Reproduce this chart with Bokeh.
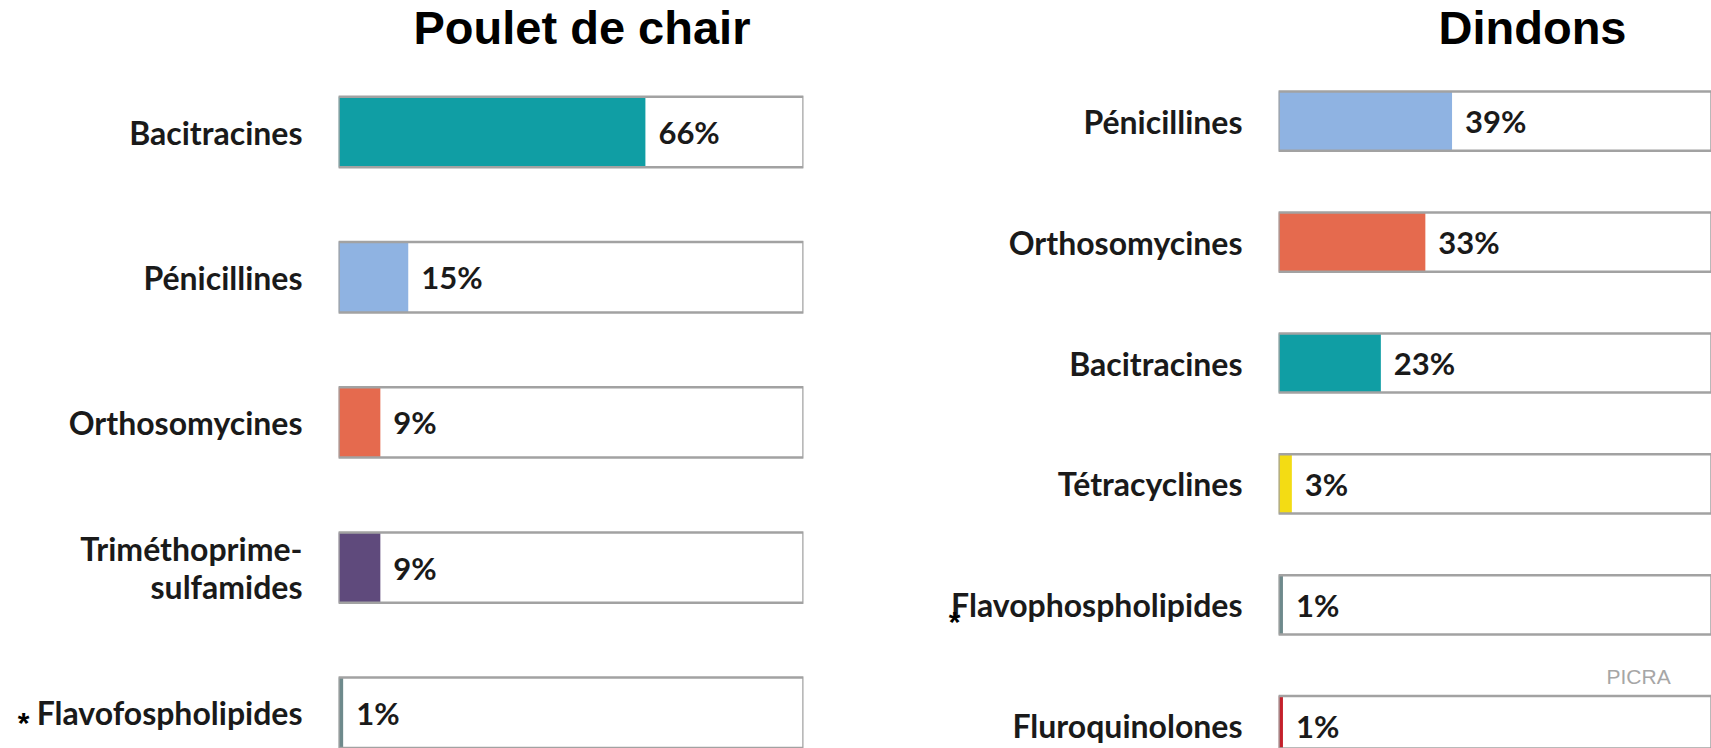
from bokeh.plotting import figure
from bokeh.layouts import row
from bokeh.models import Range1d, FixedTicker, ColumnDataSource, Label, LinearAxis
from bokeh.core.properties import value
from bokeh.embed import file_html
from bokeh.resources import INLINE

# ---------------- data ----------------
chicken_cats = ["Bacitracines", "Pénicillines", "Orthosomycines",
                "Triméthoprime-\nsulfamides", "Flavofospholipides"]
chicken_vals = [66, 15, 9, 9, 1]
chicken_cols = ["#109ea4", "#8fb3e2", "#e56a4e", "#5f4a7c", "#6e8a8c"]
chicken_note_row = 4   # row carrying the "*" note

turkey_cats = ["Pénicillines", "Orthosomycines", "Bacitracines",
               "Tétracyclines", "Flavophospholipides", "Fluroquinolones"]
turkey_vals = [39, 33, 23, 3, 1, 1]
turkey_cols = ["#8fb3e2", "#e56a4e", "#109ea4", "#f3dc14", "#6e8a8c", "#c4202b"]
turkey_note_row = 4

titles = ["Poulet de chair", "Dindons"]
source_note = "PICRA"

LABEL_FONT = "Lato"
FT = 0.0       # frame top (px)
FB = 748.0     # frame bottom (px)


def panel(title, cats, vals, cols, width, mb_left, mb_right,
          y0, step, x_end, bar_h, title_x, note_pos, note_text, note_standoff):
    n = len(cats)
    idx = list(range(n))
    y_start = (FB - y0) / step
    y_end = (FT - y0) / step
    p = figure(width=width, height=int(FB), output_backend="svg",
               toolbar_location=None, x_range=Range1d(0, x_end),
               y_range=Range1d(y_start, y_end),
               min_border_left=mb_left, min_border_right=mb_right,
               min_border_top=0, min_border_bottom=0)
    p.outline_line_color = None
    p.grid.visible = False
    p.xaxis.visible = False

    # panel title
    p.add_layout(Label(x=title_x, y=FB - 27, x_units="screen", y_units="screen",
                       text=title, text_font="Liberation Sans",
                       text_font_style="bold", text_font_size="47px",
                       text_color="#000000", text_align="left",
                       text_baseline="alphabetic"))

    def style_axis(ax):
        ax.axis_line_color = None
        ax.major_tick_line_color = None
        ax.minor_tick_line_color = None
        ax.major_tick_out = 0
        ax.major_tick_in = 0

    ax = p.yaxis[0]
    ax.ticker = FixedTicker(ticks=idx)
    ax.major_label_overrides = {i: c for i, c in zip(idx, cats)}
    style_axis(ax)
    ax.major_label_standoff = 36
    ax.major_label_text_font = LABEL_FONT
    ax.major_label_text_font_style = "bold"
    ax.major_label_text_font_size = "32px"
    ax.major_label_text_line_height = 0.98
    ax.major_label_text_color = "#1a1a1a"

    # asterisk note next to one category, drawn by a second left axis
    ax2 = LinearAxis(ticker=FixedTicker(ticks=[note_pos]),
                     major_label_overrides={note_pos: note_text})
    style_axis(ax2)
    ax2.major_label_standoff = note_standoff
    ax2.major_label_text_font = "Liberation Sans"
    ax2.major_label_text_font_style = "bold"
    ax2.major_label_text_font_size = "30px"
    ax2.major_label_text_color = "#000000"
    p.add_layout(ax2, "left")

    src = ColumnDataSource(dict(y=idx, v=vals, c=cols,
                                full=[100] * n,
                                t=[f"{v}%" for v in vals]))
    p.hbar(y="y", left=0, right="full", height=bar_h, source=src,
           fill_color="white", line_color=None)
    p.hbar(y="y", left=0, right="v", height=bar_h, source=src,
           fill_color="c", line_color=None)
    p.hbar(y="y", left=0, right="full", height=bar_h, source=src,
           fill_color=None, line_color="#a2a2a2", line_width=2.5)
    p.text(x="v", y="y", text="t", source=src, x_offset=13,
           text_font=value(LABEL_FONT), text_font_style="bold",
           text_font_size="31px", text_color="#1a1a1a",
           text_baseline="middle", text_align="left")
    return p


left = panel(titles[0], chicken_cats, chicken_vals, chicken_cols,
             860, 338, 57, 131.5, 145.2, 100, 0.485, 75,
             chicken_note_row + 0.06, "\n*", 4)
right = panel(titles[1], turkey_cats, turkey_vals, turkey_cols,
              851, 418, 0, 120.7, 120.9, (1711 - 1278) / 4.45, 0.49, 160,
              turkey_note_row + 0.14, "*", -12)

right.add_layout(Label(x=328, y=FB - 683 + 7, x_units="screen", y_units="screen",
                       text=source_note, text_font="Liberation Sans",
                       text_font_size="21px", text_color="#a6a6a6",
                       text_align="left", text_baseline="alphabetic"))

layout = row(left, right)
open("out.html", "w").write(file_html(layout, INLINE))
